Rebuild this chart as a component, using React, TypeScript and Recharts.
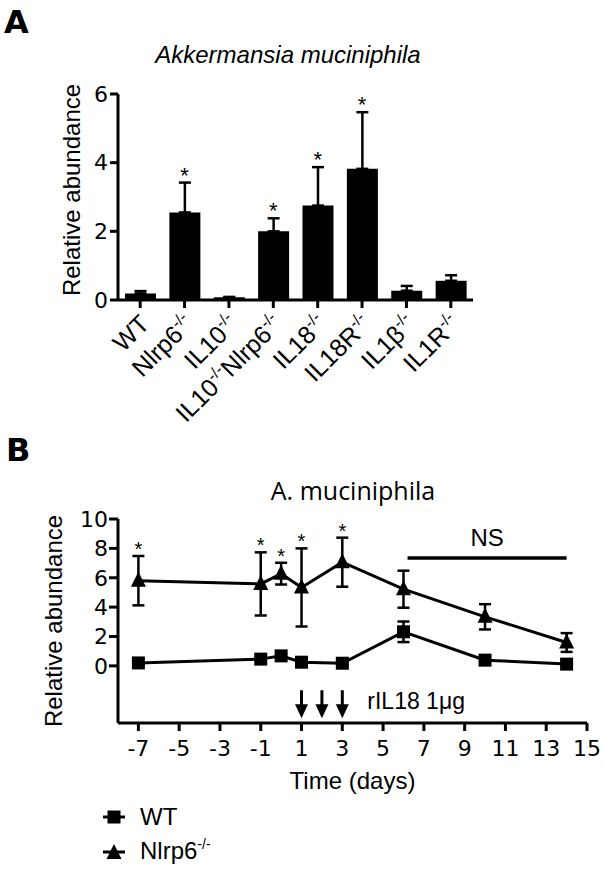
import React from 'react';
import {
  ComposedChart,
  Bar,
  Line,
  Scatter,
  XAxis,
  YAxis,
  ErrorBar,
  ReferenceLine,
  ReferenceDot,
  Label,
} from 'recharts';

const FONT = '"Liberation Sans", Arial, Helvetica, sans-serif';
const NUM_FONT = '"DejaVu Sans", "Liberation Sans", Arial, sans-serif';

// Panel A - relative abundance per genotype
const genotypes = ['WT', 'Nlrp6', 'IL10', 'IL10Nlrp6', 'IL18', 'IL18R', 'IL1b', 'IL1R'];
const genotypeLabels: [string, string][][] = [
  [['WT', '']],
  [['Nlrp6', '-/-']],
  [['IL10', '-/-']],
  [['IL10', '-/-'], ['Nlrp6', '-/-']],
  [['IL18', '-/-']],
  [['IL18R', '-/-']],
  [['IL1β', '-/-']],
  [['IL1R', '-/-']],
];
const abundance = [0.19, 2.55, 0.08, 2.0, 2.75, 3.82, 0.27, 0.56];
const abundanceErr = [0.07, 0.87, 0.01, 0.38, 1.12, 1.65, 0.14, 0.16];
const abundanceSig = [false, true, false, true, true, true, false, false];
const abundanceTicks = [0, 2, 4, 6];

// Panel B - time course
const days = [-7, -1, 0, 1, 3, 6, 10, 14];
const wtMean = [0.2, 0.46, 0.68, 0.25, 0.18, 2.32, 0.39, 0.12];
const wtErr = [0.1, 0.1, 0.15, 0.1, 0.1, 0.7, 0.1, 0.1];
const koMean = [5.8, 5.58, 6.28, 5.34, 7.06, 5.22, 3.34, 1.59];
const koErr = [1.68, 2.15, 0.74, 2.66, 1.67, 1.26, 0.86, 0.64];
const koSig = [true, true, true, true, true, false, false, false];
const injectionDays = [1, 2, 3];
const dayTicks = [-7, -5, -3, -1, 1, 3, 5, 7, 9, 11, 13, 15];
const timeTicks = [0, 2, 4, 6, 8, 10];

const barRows = genotypes.map((name, i) => ({
  name,
  value: abundance[i],
  err: [0, abundanceErr[i]],
  star: abundanceSig[i] ? abundance[i] + abundanceErr[i] : null,
}));

const timeRows = days.map((day, i) => ({
  day,
  wt: wtMean[i],
  wtErr: wtErr[i],
  ko: koMean[i],
  koErr: koErr[i],
}));

const starRows = days
  .map((day, i) => (koSig[i] ? { day, y: koMean[i] + koErr[i] } : null))
  .filter((r) => r !== null);

const arrowRows = injectionDays.map((day) => ({ day, y: -1.66 }));

const axisStroke = { stroke: '#000', strokeWidth: 3 };
const tickStyle = { fontSize: 22, fill: '#000', fontFamily: NUM_FONT };

const GenotypeTick = (props: any) => {
  const { x, y, payload } = props;
  const parts = genotypeLabels[genotypes.indexOf(payload.value)] || [];
  const spans: any[] = [];
  parts.forEach(([main, sup], i) => {
    spans.push(
      <tspan key={`m${i}`} dy={i > 0 ? 10 : undefined}>
        {main}
      </tspan>
    );
    if (sup) {
      spans.push(
        <tspan key={`s${i}`} fontSize={16} dy={-10}>
          {sup}
        </tspan>
      );
    }
  });
  return (
    <g transform={`translate(${x},${y})`}>
      <text transform="rotate(-45)" x={-2} y={17} textAnchor="end" fontSize={25} fontFamily={FONT} fill="#000">
        {spans}
      </text>
    </g>
  );
};

const StarDot = (props: any) => {
  const { cx, cy, index, value } = props;
  if (value == null || cx == null || cy == null) return <g key={`st-${index}`} />;
  return (
    <text key={`st-${index}`} x={cx} y={cy} textAnchor="middle" fontSize={22} fontFamily={FONT} fill="#000">
      *
    </text>
  );
};

const SquareDot = (props: any) => {
  const { cx, cy, index } = props;
  if (cx == null || cy == null) return <g key={`sq-${index}`} />;
  return <rect key={`sq-${index}`} x={cx - 6.5} y={cy - 6.5} width={13} height={13} fill="#000" />;
};

const TriangleDot = (props: any) => {
  const { cx, cy, index } = props;
  if (cx == null || cy == null) return <g key={`tr-${index}`} />;
  return (
    <path
      key={`tr-${index}`}
      d={`M${cx},${cy - 9} L${cx + 7.5},${cy + 6} L${cx - 7.5},${cy + 6} Z`}
      fill="#000"
    />
  );
};

const StarShape = (props: any) => {
  const { cx, cy } = props;
  return (
    <text x={cx} y={cy} textAnchor="middle" fontSize={20} fontFamily={FONT} fill="#000">
      *
    </text>
  );
};

const ArrowShape = (props: any) => {
  const { cx, cy } = props;
  return (
    <g>
      <line x1={cx} y1={cy} x2={cx} y2={cy + 16} stroke="#000" strokeWidth={3} />
      <path d={`M${cx - 6.5},${cy + 14} L${cx + 6.5},${cy + 14} L${cx},${cy + 28} Z`} fill="#000" />
    </g>
  );
};

const VerticalTitle = ({ viewBox, dx, dy }: any) => {
  const x = viewBox.x + dx;
  const y = viewBox.y + viewBox.height / 2 + dy;
  return (
    <text
      x={x}
      y={y}
      transform={`rotate(-90, ${x}, ${y})`}
      textAnchor="middle"
      fontSize={24}
      fontFamily={FONT}
      fill="#000"
    >
      Relative abundance
    </text>
  );
};

const App = () => {
  return (
    <div style={{ position: 'absolute', left: 0, top: 0, width: 604, height: 871, background: '#fff' }}>
      {/* A: bar chart */}
      <div style={{ position: 'absolute', left: 0, top: 0 }}>
        <ComposedChart width={604} height={430} data={barRows} margin={{ top: 94, right: 131, bottom: 0, left: 78 }}>
          <XAxis
            dataKey="name"
            height={130}
            interval={0}
            tickSize={8}
            tickMargin={4}
            axisLine={axisStroke}
            tickLine={axisStroke}
            tick={<GenotypeTick />}
          />
          <YAxis
            type="number"
            domain={[0, 6]}
            ticks={abundanceTicks}
            interval={0}
            width={40}
            tickSize={8}
            tickMargin={2}
            axisLine={axisStroke}
            tickLine={axisStroke}
            tick={tickStyle}
          >
            <Label content={(p: any) => <VerticalTitle viewBox={p.viewBox} dx={2} dy={-7} />} />
          </YAxis>
          <Bar dataKey="value" fill="#000" barSize={31} isAnimationActive={false}>
            <ErrorBar dataKey="err" width={6} stroke="#000" strokeWidth={2.5} direction="y" />
          </Bar>
          <Line
            dataKey="star"
            stroke="none"
            dot={StarDot}
            activeDot={false}
            isAnimationActive={false}
          />
        </ComposedChart>
      </div>

      {/* B: time course */}
      <div style={{ position: 'absolute', left: 0, top: 430 }}>
        <ComposedChart width={604} height={380} data={timeRows} margin={{ top: 89, right: 17, bottom: 0, left: 58 }}>
          <XAxis
            dataKey="day"
            type="number"
            domain={[-8, 15]}
            ticks={dayTicks}
            interval={0}
            height={87}
            tickSize={8}
            tickMargin={9}
            axisLine={axisStroke}
            tickLine={axisStroke}
            tick={tickStyle}
          >
            <Label
              content={(p: any) => (
                <text
                  x={p.viewBox.x + p.viewBox.width / 2}
                  y={p.viewBox.y + 66}
                  textAnchor="middle"
                  fontSize={24}
                  fontFamily={FONT}
                  fill="#000"
                >
                  Time (days)
                </text>
              )}
            />
          </XAxis>
          <YAxis
            type="number"
            domain={[-3.89, 10]}
            ticks={timeTicks}
            interval={0}
            width={60}
            tickSize={9}
            tickMargin={1}
            axisLine={axisStroke}
            tickLine={axisStroke}
            tick={tickStyle}
          >
            <Label content={(p: any) => <VerticalTitle viewBox={p.viewBox} dx={4} dy={0} />} />
          </YAxis>
          <ReferenceLine
            segment={[
              { x: 6.2, y: 7.35 },
              { x: 14, y: 7.35 },
            ]}
            stroke="#000"
            strokeWidth={3.5}
            label={{ value: 'NS', position: 'top', offset: 12, fontSize: 24, fill: '#000', fontFamily: FONT }}
          />
          <Line
            dataKey="wt"
            type="linear"
            stroke="#000"
            strokeWidth={3}
            dot={SquareDot}
            activeDot={false}
            isAnimationActive={false}
          >
            <ErrorBar dataKey="wtErr" width={6} stroke="#000" strokeWidth={2.5} direction="y" />
          </Line>
          <Line
            dataKey="ko"
            type="linear"
            stroke="#000"
            strokeWidth={3}
            dot={TriangleDot}
            activeDot={false}
            isAnimationActive={false}
          >
            <ErrorBar dataKey="koErr" width={6} stroke="#000" strokeWidth={2.5} direction="y" />
          </Line>
          <Scatter data={starRows} dataKey="y" shape={StarShape} isAnimationActive={false} />
          <Scatter data={arrowRows} dataKey="y" shape={ArrowShape} isAnimationActive={false} />
          <ReferenceDot
            x={3}
            y={-2.41}
            r={0}
            stroke="none"
            fill="none"
            label={{ value: 'rIL18 1μg', position: 'right', offset: 25, fontSize: 23, fill: '#000', fontFamily: FONT }}
          />
        </ComposedChart>
      </div>

      {/* panel letters, titles, legend */}
      <svg width={604} height={871} style={{ position: 'absolute', left: 0, top: 0, pointerEvents: 'none' }}>
        <text x={4} y={33} fontSize={32} fontWeight="bold" fontFamily={NUM_FONT} fill="#000">
          A
        </text>
        <text x={6} y={461} fontSize={32} fontWeight="bold" fontFamily={NUM_FONT} fill="#000">
          B
        </text>
        <text x={288} y={63} textAnchor="middle" fontSize={24} fontStyle="italic" fontFamily={FONT} fill="#000">
          Akkermansia muciniphila
        </text>
        <text x={353} y={500} textAnchor="middle" fontSize={25} fontFamily='"Open Sans", sans-serif' fill="#000">
          A. muciniphila
        </text>
        <g>
          <line x1={103} y1={817} x2={125} y2={817} stroke="#000" strokeWidth={3} />
          <SquareDot cx={114} cy={817} index={0} />
          <text x={140} y={825} fontSize={24} fontFamily={FONT} fill="#000">
            WT
          </text>
          <line x1={103} y1={852} x2={125} y2={852} stroke="#000" strokeWidth={3} />
          <TriangleDot cx={114} cy={853} index={1} />
          <text x={140} y={859} fontSize={24} fontFamily={FONT} fill="#000">
            Nlrp6
            <tspan fontSize={14} dy={-10}>
              -/-
            </tspan>
          </text>
        </g>
      </svg>
    </div>
  );
};

export default App;
